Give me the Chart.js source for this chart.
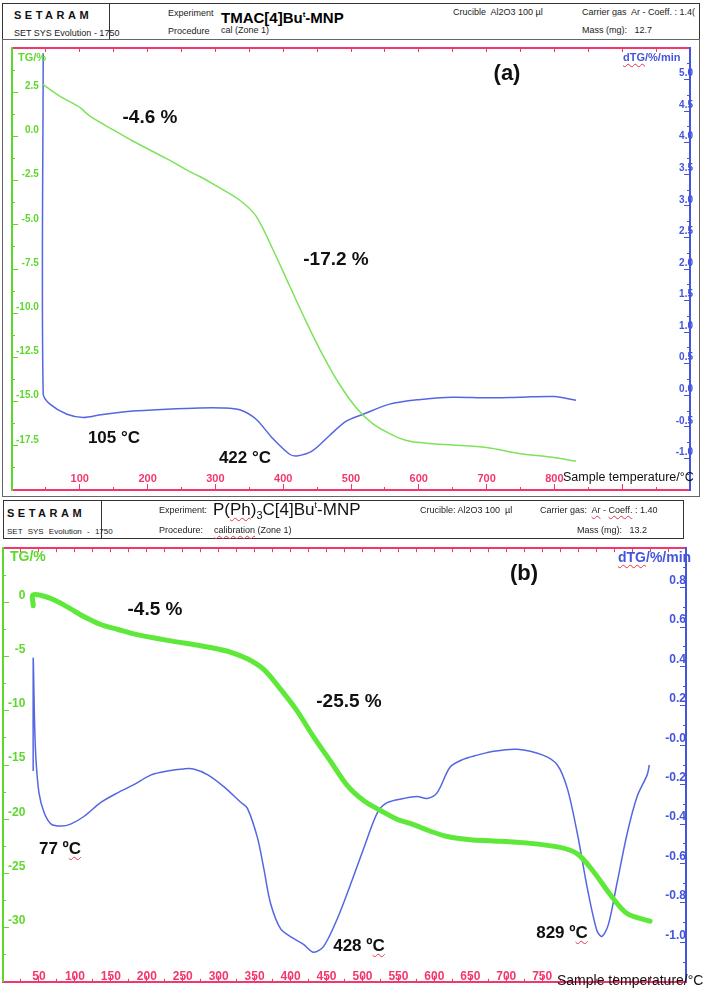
<!DOCTYPE html>
<html>
<head>
<meta charset="utf-8">
<script src="https://cdn.jsdelivr.net/npm/chart.js@4.4.1/dist/chart.umd.min.js"></script>
<style>
  body { margin: 0; background: #fff; font-family: 'Liberation Sans', Arial, sans-serif; }
  #page { position: relative; width: 710px; height: 994px; overflow: hidden; }
  canvas { position: absolute; left: 0; }
  .box { position: absolute; border: 1px solid #333; box-sizing: border-box; }
  .t { position: absolute; white-space: nowrap; line-height: 1; }
  .c { transform: translate(-50%, -50%); }
  .l { transform: translateY(-50%); }
  .sq { text-decoration: underline wavy #e8344f; text-decoration-thickness: 1px; text-underline-offset: 2px; }
  .hs { font-size: 9px; color: #222; }
  .logo { font-weight: bold; font-size: 11px; letter-spacing: 3.5px; color: #111; }
  .ann { font-weight: bold; color: #111; }
</style>
</head>
<body>
<div id="page">
  <!-- header (a) -->
  <div class="box" style="left:2px;top:3px;width:698px;height:37px"></div>
  <div class="box" style="left:109px;top:3px;width:1px;height:37px;border-width:0 0 0 1px"></div>
  <div class="t l logo" style="left:14px;top:15px">SETARAM</div>
  <div class="t l hs" style="left:14px;top:33px">SET SYS Evolution - 1750</div>
  <div class="t l hs" style="left:168px;top:13px">Experiment</div>
  <div class="t l" style="left:221px;top:17px;font-size:15px;font-weight:bold">TMAC[4]Bu<sup style="font-size:8px">t</sup>-MNP</div>
  <div class="t l hs" style="left:168px;top:31px">Procedure</div>
  <div class="t l hs" style="left:221px;top:30px">cal (Zone 1)</div>
  <div class="t l hs" style="left:453px;top:12px">Crucible&nbsp; Al2O3 100 µl</div>
  <div class="t l hs" style="left:582px;top:12px;width:117px;overflow:hidden">Carrier gas&nbsp; <span class="sq">Ar</span> - <span class="sq">Coeff.</span> : 1.4(</div>
  <div class="t l hs" style="left:582px;top:30px">Mass (mg):&nbsp;&nbsp; 12.7</div>
  <div class="box" style="left:2px;top:39px;width:698px;height:458px;border-color:#666"></div>

  <canvas id="chartA" width="710" height="462" style="top:38px"></canvas>

  <div class="t l" style="left:18px;top:57px;font-size:11px;font-weight:bold;color:#5ed82c">TG/%</div>
  <div class="t l" style="left:623px;top:57px;font-size:11px;font-weight:bold;color:#4455dd"><span class="sq">dTG</span>/%/min</div>
  <div class="t l" style="left:563px;top:477px;font-size:12.5px;color:#111">Sample temperature/°C</div>
  <div class="t c ann" style="left:507px;top:73px;font-size:22px">(a)</div>
  <div class="t c ann" style="left:150px;top:116px;font-size:19px">-4.6 %</div>
  <div class="t c ann" style="left:336px;top:258px;font-size:19px">-17.2 %</div>
  <div class="t c ann" style="left:114px;top:437px;font-size:17px">105 °C</div>
  <div class="t c ann" style="left:245px;top:457px;font-size:17px">422 °C</div>

  <!-- header (b) -->
  <div class="box" style="left:3px;top:500px;width:681px;height:39px"></div>
  <div class="box" style="left:101px;top:500px;width:1px;height:39px;border-width:0 0 0 1px"></div>
  <div class="t l logo" style="left:7px;top:513px">SETARAM</div>
  <div class="t l" style="left:7px;top:532px;font-size:8px;color:#222;word-spacing:3px">SET SYS Evolution - 1750</div>
  <div class="t l hs" style="left:159px;top:510px">Experiment:</div>
  <div class="t l" style="left:213px;top:511px;font-size:17px;color:#111">P(<span class="sq">Ph</span>)<sub style="font-size:11px">3</sub>C[4]Bu<sup style="font-size:9px">t</sup>-MNP</div>
  <div class="t l hs" style="left:159px;top:530px">Procedure:</div>
  <div class="t l hs" style="left:214px;top:530px"><span class="sq">calibration</span> (Zone 1)</div>
  <div class="t l hs" style="left:420px;top:510px">Crucible: Al2O3 100&nbsp; µl</div>
  <div class="t l hs" style="left:540px;top:510px">Carrier gas:&nbsp; <span class="sq">Ar</span> - <span class="sq">Coeff.</span> : 1.40</div>
  <div class="t l hs" style="left:577px;top:530px">Mass (mg):&nbsp;&nbsp; 13.2</div>

  <canvas id="chartB" width="710" height="458" style="top:536px"></canvas>

  <div class="t l" style="left:10px;top:556px;font-size:14px;font-weight:bold;color:#5ed82c">TG/%</div>
  <div class="t l" style="left:618px;top:557px;font-size:14px;font-weight:bold;color:#4455dd"><span class="sq">dTG</span>/%/min</div>
  <div class="t l" style="left:557px;top:980px;font-size:14px;color:#111">Sample temperature/°C</div>
  <div class="t c ann" style="left:524px;top:573px;font-size:22px">(b)</div>
  <div class="t c ann" style="left:155px;top:608px;font-size:19px">-4.5 %</div>
  <div class="t c ann" style="left:349px;top:700px;font-size:19px">-25.5 %</div>
  <div class="t c ann" style="left:60px;top:848px;font-size:17px">77 º<span class="sq">C</span></div>
  <div class="t c ann" style="left:359px;top:945px;font-size:17px">428 º<span class="sq">C</span></div>
  <div class="t c ann" style="left:562px;top:932px;font-size:17px">829 º<span class="sq">C</span></div>
</div>

<script>
"use strict"

// (a) TMAC[4]Bu-MNP
const tempTgA = [46, 71, 100, 115, 150, 178, 228, 262, 277, 300, 336, 360, 385, 409, 434, 458, 483, 508, 532, 557, 582, 616, 650, 700, 748, 797, 832];
const tgA = [2.93, 2.26, 1.64, 1.14, 0.35, -0.26, -1.26, -1.99, -2.27, -2.77, -3.61, -4.51, -6.41, -8.42, -10.49, -12.34, -14.02, -15.36, -16.25, -16.81, -17.2, -17.37, -17.45, -17.6, -17.93, -18.15, -18.38];
const tempDtgA = [46, 46, 56, 81, 105, 130, 178, 228, 277, 310, 336, 360, 385, 409, 420, 443, 468, 493, 518, 557, 600, 650, 700, 750, 800, 832];
const dtgA = [5.42, 0.02, -0.14, -0.30, -0.35, -0.31, -0.25, -0.22, -0.20, -0.20, -0.23, -0.38, -0.69, -0.93, -0.96, -0.88, -0.64, -0.41, -0.30, -0.14, -0.07, -0.03, -0.04, -0.03, -0.02, -0.08];

const xLabelsA = [100, 200, 300, 400, 500, 600, 700, 800];
const yLeftLabelsA = [2.5, 0, -2.5, -5, -7.5, -10, -12.5, -15, -17.5];
const yRightLabelsA = [5, 4.5, 4, 3.5, 3, 2.5, 2, 1.5, 1, 0.5, 0, -0.5, -1];

// (b) P(Ph)3C[4]Bu-MNP
const tempTgB = [42, 42, 67, 90, 113, 136, 160, 182, 229, 275, 299, 317, 340, 363, 386, 409, 432, 456, 479, 502, 525, 548, 571, 594, 618, 650, 682, 729, 775, 799, 821, 844, 868, 900];
const tgB = [-0.3, 0.7, 0.35, -0.44, -1.33, -2.04, -2.5, -2.9, -3.5, -4.0, -4.3, -4.6, -5.2, -6.2, -8.0, -10.0, -12.4, -14.7, -16.9, -18.3, -19.2, -20.0, -20.5, -21.1, -21.6, -21.9, -22.0, -22.2, -22.6, -23.2, -24.8, -26.9, -28.7, -29.4];
const tempDtgB = [42, 42, 44, 46, 50, 57, 67, 81, 94, 113, 136, 160, 182, 206, 229, 251, 265, 285, 307, 331, 340, 354, 363, 372, 386, 404, 418, 432, 446, 465, 483, 502, 521, 535, 557, 576, 590, 604, 622, 641, 660, 682, 715, 751, 771, 785, 799, 813, 826, 833, 842, 854, 868, 882, 896, 899];
const dtgB = [-0.13, 0.44, 0.1, -0.08, -0.24, -0.34, -0.40, -0.41, -0.40, -0.36, -0.29, -0.24, -0.20, -0.15, -0.13, -0.12, -0.12, -0.15, -0.21, -0.29, -0.32, -0.47, -0.63, -0.80, -0.93, -0.98, -1.01, -1.05, -1.02, -0.88, -0.71, -0.52, -0.34, -0.29, -0.27, -0.26, -0.27, -0.24, -0.11, -0.07, -0.05, -0.03, -0.02, -0.05, -0.10, -0.22, -0.45, -0.73, -0.94, -0.97, -0.91, -0.70, -0.45, -0.26, -0.15, -0.10];

const xLabelsB = [50, 100, 150, 200, 250, 300, 350, 400, 450, 500, 550, 600, 650, 700, 750];
const yLeftLabelsB = [0, -5, -10, -15, -20, -25, -30];
const yRightLabelsB = [0.8, 0.6, 0.4, 0.2, 0, -0.2, -0.4, -0.6, -0.8, -1.0];

const RED = '#f4376a';
const GREEN = '#5ed82c';
const BLUE = '#4455dd';

function pts(xs, ys) {
    return xs.map((x, i) => ({x: x, y: ys[i]}));
}

function has(list, v) {
    return list.some(l => Math.abs(l - v) < 1e-6);
}

// every axis sits on the plot border, labels drawn inside
function zeroSize(scale) {
    if (scale.isHorizontal()) scale.height = 0;
    else scale.width = 0;
}

function axis(pos, min, max, step, color, len, labels, fmt, font, tickExtra) {
    return {
        type: 'linear',
        position: pos,
        min: min,
        max: max,
        afterFit: zeroSize,
        border: {display: true, color: color, width: 2},
        grid: {drawOnChartArea: false, drawTicks: true, tickLength: len, tickColor: color, tickWidth: 1},
        ticks: Object.assign({
            stepSize: step,
            autoSkip: false,
            maxRotation: 0,
            mirror: true,
            color: color,
            font: font,
            callback: v => (labels && has(labels, v)) ? fmt(v) : ''
        }, tickExtra || {})
    };
}

const fmt1 = v => Math.abs(v) < 1e-9 ? '0.0' : v.toFixed(1);
const fmtB = v => Math.abs(v) < 1e-9 ? '-0.0' : v.toFixed(1);
const fmt0 = v => String(Math.round(v));

const chartA = new Chart(document.getElementById('chartA'), {
    type: 'line',
    data: {
        datasets: [{
            data: pts(tempTgA, tgA),
            xAxisID: 'x', yAxisID: 'y',
            borderColor: '#7ee25a', borderWidth: 1.5, pointRadius: 0, tension: 0.3
        }, {
            data: pts(tempDtgA, dtgA),
            xAxisID: 'x', yAxisID: 'y2',
            borderColor: '#5566e2', borderWidth: 1.5, pointRadius: 0, tension: 0.3
        }]
    },
    options: {
        responsive: false,
        animation: false,
        layout: {padding: {left: 12, top: 5, right: 20, bottom: 10}},
        plugins: {legend: {display: false}, tooltip: {enabled: false}},
        scales: {
            x: axis('bottom', 0, 1000, 100, RED, -6, xLabelsA, fmt0,
                {size: 11, weight: 'bold', family: 'Liberation Sans'}, {padding: 4}),
            xMinor: axis('bottom', 0, 1000, 50, RED, -3, null, fmt0, {size: 1}),
            xTop: axis('top', 0, 1000, 50, RED, -4, null, fmt0, {size: 1}),
            y: axis('left', -20, 5, 2.5, GREEN, -6, yLeftLabelsA, fmt1,
                {size: 10, weight: 'bold', family: 'Liberation Sans'},
                {crossAlign: 'far', padding: 4, labelOffset: -6}),
            yMinor: axis('left', -20, 5, 1.25, GREEN, -3, null, fmt1, {size: 1}),
            y2: axis('right', -1.5, 5.5, 0.5, BLUE, -6, yRightLabelsA, fmt1,
                {size: 10, weight: 'bold', family: 'Liberation Sans'},
                {padding: 3, labelOffset: -6}),
            y2Minor: axis('right', -1.5, 5.5, 0.25, BLUE, -3, null, fmt1, {size: 1})
        }
    }
});

const chartB = new Chart(document.getElementById('chartB'), {
    type: 'line',
    data: {
        datasets: [{
            data: pts(tempTgB, tgB),
            xAxisID: 'x', yAxisID: 'y',
            borderColor: '#5ee83a', borderWidth: 5, pointRadius: 0, tension: 0.3,
            borderCapStyle: 'round', borderJoinStyle: 'round'
        }, {
            data: pts(tempDtgB, dtgB),
            xAxisID: 'x', yAxisID: 'y2',
            borderColor: '#5566e2', borderWidth: 1.5, pointRadius: 0, tension: 0.3
        }]
    },
    options: {
        responsive: false,
        animation: false,
        layout: {padding: {left: 3, top: 6, right: 24, bottom: 3}},
        plugins: {legend: {display: false}, tooltip: {enabled: false}},
        scales: {
            x: axis('bottom', 0, 950, 50, RED, -6, xLabelsB, fmt0,
                {size: 12, weight: 'bold', family: 'Liberation Sans'}, {padding: -2}),
            xMinor: axis('bottom', 0, 950, 25, RED, -3, null, fmt0, {size: 1}),
            xTop: axis('top', 0, 950, 25, RED, -4, null, fmt0, {size: 1}),
            y: axis('left', -35, 5, 5, GREEN, -6, yLeftLabelsB, fmt0,
                {size: 12, weight: 'bold', family: 'Liberation Sans'},
                {crossAlign: 'far', padding: 5, labelOffset: -7}),
            yMinor: axis('left', -35, 5, 2.5, GREEN, -3, null, fmt0, {size: 1}),
            y2: axis('right', -1.2, 1.0, 0.2, BLUE, -6, yRightLabelsB, fmtB,
                {size: 12, weight: 'bold', family: 'Liberation Sans'},
                {padding: 0, labelOffset: -7}),
            y2Minor: axis('right', -1.2, 1.0, 0.1, BLUE, -3, null, fmtB, {size: 1})
        }
    }
});
</script>
</body>
</html>
